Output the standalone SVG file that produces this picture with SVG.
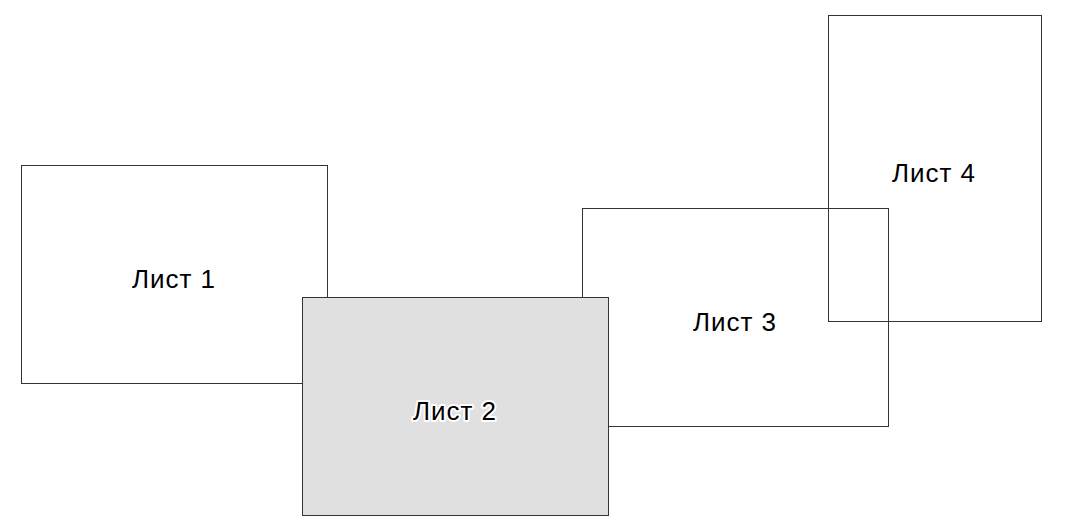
<svg xmlns="http://www.w3.org/2000/svg" width="1080" height="519" viewBox="0 0 1080 519">
<style>
.sheet{fill:none;stroke:#333;stroke-width:1}
.grey{fill:#e0e0e0}
text{font-family:"Liberation Sans",Arial,sans-serif;font-size:26px;letter-spacing:1px;fill:#000;text-anchor:middle}
.halo{stroke:#fff;stroke-width:4px;stroke-linejoin:round;paint-order:stroke}
</style>
<rect width="1080" height="519" fill="#fff"/>
<g id="sheet1"><rect class="sheet" x="21.5" y="165.5" width="306" height="218"/><text x="174" y="288">Лист 1</text></g>
<g id="sheet3"><rect class="sheet" x="582.5" y="208.5" width="306" height="218"/><text x="735" y="331">Лист 3</text></g>
<g id="sheet2"><rect class="sheet grey" x="302.5" y="297.5" width="306" height="218"/><text class="halo" x="455" y="420">Лист 2</text></g>
<g id="sheet4"><rect class="sheet" x="828.5" y="15.5" width="213" height="306"/><text x="934" y="182">Лист 4</text></g>
<g id="connectors"/>
</svg>
